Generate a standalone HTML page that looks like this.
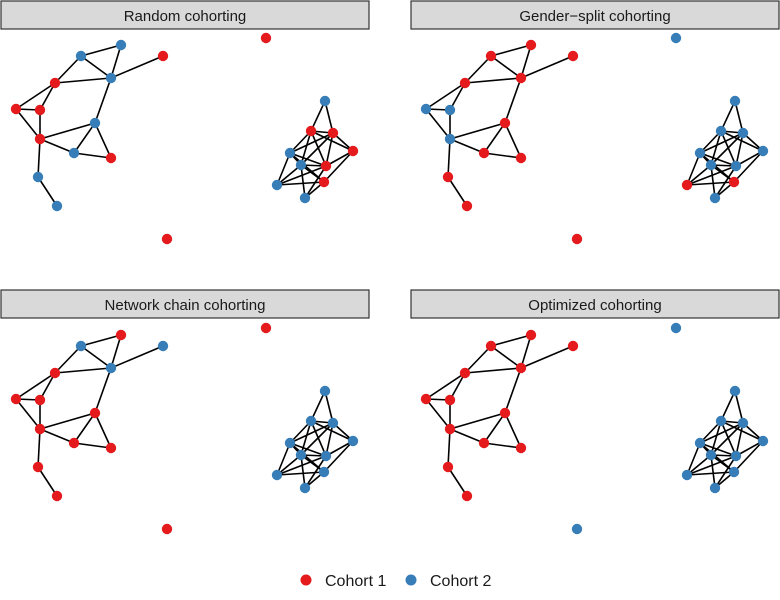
<!DOCTYPE html>
<html><head><meta charset="utf-8"><style>
html,body{margin:0;padding:0;background:#fff;}
svg{display:block;}
text{font-family:"Liberation Sans",Arial,sans-serif;fill:#1a1a1a;}
</style></head><body>
<svg id="s" width="780" height="600" xmlns="http://www.w3.org/2000/svg">
<rect x="1" y="1" width="368" height="28" fill="#d9d9d9" stroke="#333" stroke-width="1.2"/>
<text x="185" y="21" font-size="15" text-anchor="middle">Random cohorting</text>
<rect x="411" y="1" width="368" height="28" fill="#d9d9d9" stroke="#333" stroke-width="1.2"/>
<text x="595" y="21" font-size="15" text-anchor="middle">Gender−split cohorting</text>
<rect x="1" y="290" width="368" height="28" fill="#d9d9d9" stroke="#333" stroke-width="1.2"/>
<text x="185" y="310" font-size="15" text-anchor="middle">Network chain cohorting</text>
<rect x="411" y="290" width="368" height="28" fill="#d9d9d9" stroke="#333" stroke-width="1.2"/>
<text x="595" y="310" font-size="15" text-anchor="middle">Optimized cohorting</text>
<circle cx="306" cy="580" r="5.5" fill="#e41a1c"/>
<text x="325" y="586" font-size="16">Cohort 1</text>
<circle cx="411" cy="580" r="5.5" fill="#377eb8"/>
<text x="430" y="586" font-size="16">Cohort 2</text>
<g id="g"></g>
</svg>
<script>
var P={A:[121,45],B:[81,56],C:[163,56],D:[111,78],E:[55,83],F:[16,109],G:[40,110],H:[95,123],I:[40,139],J:[74,153],K:[111,158],L:[38,177],M:[57,206],
N1:[325,101],N2:[311,131],N3:[333,133],N4:[353,151],N5:[290,153],N6:[301,165],N7:[326,166],N8:[324,182],N9:[277,185],N10:[305,198],
X1:[266,38],X2:[167,239]};
var E=[["B","A"],["A","D"],["B","D"],["B","E"],["D","E"],["D","C"],["E","F"],["E","G"],["F","G"],["F","I"],["G","I"],["D","H"],["I","H"],["I","J"],["H","J"],["H","K"],["J","K"],["I","L"],["L","M"],
["N1","N2"],["N1","N3"],["N2","N3"],["N2","N4"],["N3","N4"],["N2","N5"],["N2","N6"],["N2","N7"],["N3","N5"],["N3","N6"],["N3","N7"],["N4","N7"],["N4","N8"],["N5","N6"],["N5","N7"],["N5","N8"],["N5","N9"],["N6","N7"],["N6","N8"],["N6","N10"],["N7","N9"],["N7","N10"],["N8","N9"],["N8","N10"],["N6","N9"]];
var R="#e41a1c",B="#377eb8";
function cols(s){var o={};s.split(" ").forEach(function(p){var k=p.split(":");o[k[0]]=k[1]=="r"?R:B;});return o;}
var panels=[
[0,0,cols("A:b B:b C:r D:b E:r F:r G:r H:b I:r J:b K:r L:b M:b N1:b N2:r N3:r N4:r N5:b N6:b N7:r N8:r N9:b N10:b X1:r X2:r")],
[410,0,cols("A:r B:r C:r D:r E:r F:b G:b H:r I:b J:r K:r L:r M:r N1:b N2:b N3:b N4:b N5:b N6:b N7:b N8:r N9:r N10:b X1:b X2:r")],
[0,290,cols("A:r B:b C:b D:b E:r F:r G:r H:r I:r J:r K:r L:r M:r N1:b N2:b N3:b N4:b N5:b N6:b N7:b N8:b N9:b N10:b X1:r X2:r")],
[410,290,cols("A:r B:r C:r D:r E:r F:r G:r H:r I:r J:r K:r L:r M:r N1:b N2:b N3:b N4:b N5:b N6:b N7:b N8:b N9:b N10:b X1:b X2:b")]];
var h="";
panels.forEach(function(p){var dx=p[0],dy=p[1],c=p[2];
E.forEach(function(e){var a=P[e[0]],b=P[e[1]];h+='<line x1="'+(a[0]+dx)+'" y1="'+(a[1]+dy)+'" x2="'+(b[0]+dx)+'" y2="'+(b[1]+dy)+'" stroke="#000" stroke-width="1.6"/>';});
for(var k in P){h+='<circle cx="'+(P[k][0]+dx)+'" cy="'+(P[k][1]+dy)+'" r="5.2" fill="'+c[k]+'"/>';}
});
document.getElementById("g").innerHTML=h;
</script>
</body></html>
